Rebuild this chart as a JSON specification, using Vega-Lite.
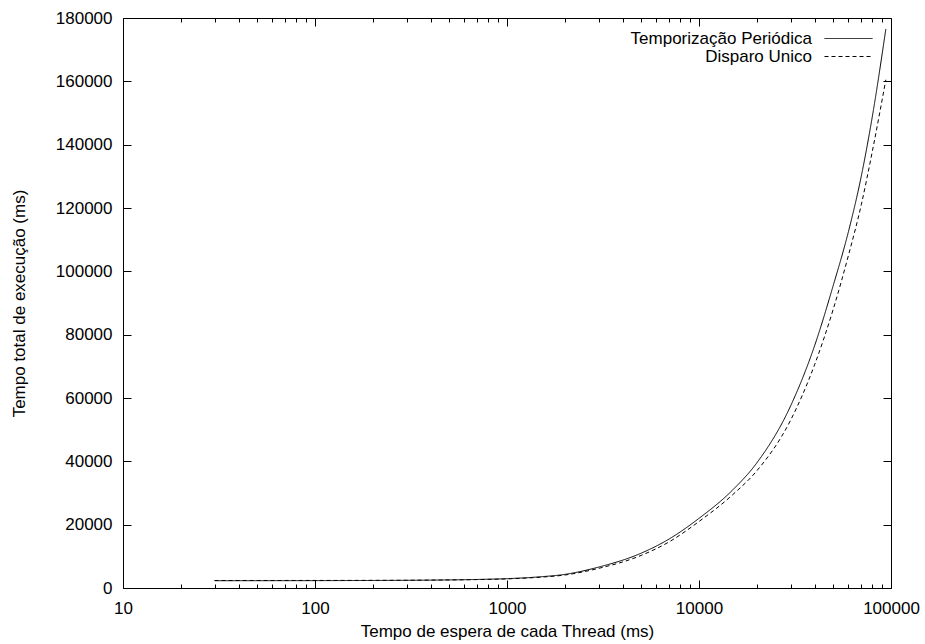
{
  "$schema": "https://vega.github.io/schema/vega-lite/v6.json",
  "autosize": "none",
  "width": 768,
  "height": 570,
  "padding": {"left": 123, "top": 18, "right": 34, "bottom": 56},
  "background": "white",
  "config": {
    "view": {"stroke": null},
    "font": "Liberation Sans",
    "axis": {
      "grid": false,
      "labelFont": "Liberation Sans",
      "labelFontSize": 17,
      "labelColor": "black",
      "titleFont": "Liberation Sans",
      "titleFontSize": 17,
      "titleFontWeight": "normal",
      "titleColor": "black",
      "domainColor": "black",
      "domainWidth": 1,
      "tickColor": "black",
      "tickWidth": 1,
      "labelOverlap": false,
      "labelFlush": false
    },
    "legend": {
      "orient": "none",
      "legendX": 717,
      "legendY": 12,
      "padding": 0,
      "symbolType": "M-4.8,0H4.8",
      "symbolSize": 100,
      "symbolStrokeWidth": 1,
      "symbolStrokeColor": "black",
      "labelAlign": "right",
      "labelOffset": -45,
      "labelFont": "Liberation Sans",
      "labelFontSize": 17,
      "labelColor": "black",
      "labelLimit": 400,
      "rowPadding": 0
    }
  },
  "data": {
    "values": [
      {"x": 30, "y": 2300, "serie": "Temporização Periódica"},
      {"x": 50, "y": 2310, "serie": "Temporização Periódica"},
      {"x": 100, "y": 2330, "serie": "Temporização Periódica"},
      {"x": 200, "y": 2380, "serie": "Temporização Periódica"},
      {"x": 300, "y": 2430, "serie": "Temporização Periódica"},
      {"x": 500, "y": 2560, "serie": "Temporização Periódica"},
      {"x": 700, "y": 2700, "serie": "Temporização Periódica"},
      {"x": 1000, "y": 2950, "serie": "Temporização Periódica"},
      {"x": 1500, "y": 3550, "serie": "Temporização Periódica"},
      {"x": 2000, "y": 4300, "serie": "Temporização Periódica"},
      {"x": 3000, "y": 6600, "serie": "Temporização Periódica"},
      {"x": 5000, "y": 11000, "serie": "Temporização Periódica"},
      {"x": 7000, "y": 15500, "serie": "Temporização Periódica"},
      {"x": 10000, "y": 22000, "serie": "Temporização Periódica"},
      {"x": 15000, "y": 31000, "serie": "Temporização Periódica"},
      {"x": 20000, "y": 39500, "serie": "Temporização Periódica"},
      {"x": 30000, "y": 57500, "serie": "Temporização Periódica"},
      {"x": 40000, "y": 76500, "serie": "Temporização Periódica"},
      {"x": 50000, "y": 95500, "serie": "Temporização Periódica"},
      {"x": 60000, "y": 112500, "serie": "Temporização Periódica"},
      {"x": 70000, "y": 130000, "serie": "Temporização Periódica"},
      {"x": 80000, "y": 149000, "serie": "Temporização Periódica"},
      {"x": 94000, "y": 176500, "serie": "Temporização Periódica"},
      {"x": 30, "y": 2370, "serie": "Disparo Unico"},
      {"x": 50, "y": 2375, "serie": "Disparo Unico"},
      {"x": 100, "y": 2385, "serie": "Disparo Unico"},
      {"x": 200, "y": 2410, "serie": "Disparo Unico"},
      {"x": 300, "y": 2440, "serie": "Disparo Unico"},
      {"x": 500, "y": 2540, "serie": "Disparo Unico"},
      {"x": 700, "y": 2660, "serie": "Disparo Unico"},
      {"x": 1000, "y": 2880, "serie": "Disparo Unico"},
      {"x": 1500, "y": 3420, "serie": "Disparo Unico"},
      {"x": 2000, "y": 4100, "serie": "Disparo Unico"},
      {"x": 3000, "y": 6200, "serie": "Disparo Unico"},
      {"x": 5000, "y": 10300, "serie": "Disparo Unico"},
      {"x": 7000, "y": 14600, "serie": "Disparo Unico"},
      {"x": 10000, "y": 21000, "serie": "Disparo Unico"},
      {"x": 15000, "y": 29500, "serie": "Disparo Unico"},
      {"x": 20000, "y": 37000, "serie": "Disparo Unico"},
      {"x": 30000, "y": 53000, "serie": "Disparo Unico"},
      {"x": 40000, "y": 70500, "serie": "Disparo Unico"},
      {"x": 50000, "y": 88000, "serie": "Disparo Unico"},
      {"x": 60000, "y": 105000, "serie": "Disparo Unico"},
      {"x": 70000, "y": 121000, "serie": "Disparo Unico"},
      {"x": 80000, "y": 138000, "serie": "Disparo Unico"},
      {"x": 94000, "y": 160500, "serie": "Disparo Unico"}
    ]
  },
  "layer": [
    {
      "mark": {"type": "line", "color": "black", "strokeWidth": 1, "interpolate": "monotone"},
      "encoding": {
        "x": {
          "field": "x", "type": "quantitative",
          "scale": {"type": "log", "domain": [10, 100000], "nice": false},
          "axis": {
            "orient": "bottom",
            "values": [10, 100, 1000, 10000, 100000],
            "format": "d",
            "tickSize": -8,
            "labelPadding": 20,
            "domain": true,
            "title": "Tempo de espera de cada Thread (ms)",
            "titlePadding": 7
          }
        },
        "y": {
          "field": "y", "type": "quantitative",
          "scale": {"domain": [0, 180000], "nice": false},
          "axis": {
            "orient": "left",
            "values": [0, 20000, 40000, 60000, 80000, 100000, 120000, 140000, 160000, 180000],
            "format": "d",
            "tickSize": -8,
            "labelPadding": 19,
            "domain": true,
            "title": "Tempo total de execução (ms)",
            "titlePadding": 27
          }
        },
        "strokeDash": {
          "field": "serie", "type": "nominal",
          "scale": {"domain": ["Temporização Periódica", "Disparo Unico"], "range": [[1, 0], [4, 3]]},
          "legend": {"title": null}
        }
      }
    },
    {
      "mark": {"type": "line", "opacity": 0},
      "encoding": {
        "x": {
          "field": "x", "type": "quantitative",
          "axis": {
            "orient": "bottom",
            "values": [20, 30, 40, 50, 60, 70, 80, 90, 200, 300, 400, 500, 600, 700, 800, 900, 2000, 3000, 4000, 5000, 6000, 7000, 8000, 9000, 20000, 30000, 40000, 50000, 60000, 70000, 80000, 90000],
            "tickSize": -4,
            "labels": false,
            "domain": false,
            "title": null
          }
        },
        "y": {
          "field": "y", "type": "quantitative",
          "axis": {
            "orient": "right",
            "values": [0, 20000, 40000, 60000, 80000, 100000, 120000, 140000, 160000, 180000],
            "tickSize": -8,
            "labels": false,
            "domain": true,
            "title": null
          }
        },
        "detail": {"field": "serie"}
      }
    },
    {
      "mark": {"type": "line", "opacity": 0},
      "encoding": {
        "x": {
          "field": "x", "type": "quantitative",
          "axis": {
            "orient": "top",
            "values": [10, 100, 1000, 10000, 100000],
            "tickSize": -8,
            "labels": false,
            "domain": true,
            "title": null
          }
        },
        "y": {"field": "y", "type": "quantitative", "axis": null},
        "detail": {"field": "serie"}
      }
    },
    {
      "mark": {"type": "line", "opacity": 0},
      "encoding": {
        "x": {
          "field": "x", "type": "quantitative",
          "axis": {
            "orient": "top",
            "values": [20, 30, 40, 50, 60, 70, 80, 90, 200, 300, 400, 500, 600, 700, 800, 900, 2000, 3000, 4000, 5000, 6000, 7000, 8000, 9000, 20000, 30000, 40000, 50000, 60000, 70000, 80000, 90000],
            "tickSize": -4,
            "labels": false,
            "domain": false,
            "title": null
          }
        },
        "y": {"field": "y", "type": "quantitative", "axis": null},
        "detail": {"field": "serie"}
      }
    }
  ],
  "resolve": {"axis": {"x": "independent", "y": "independent"}}
}
